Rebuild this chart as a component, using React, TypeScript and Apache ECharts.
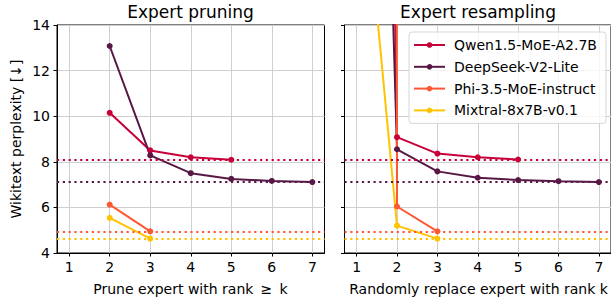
import React, { useEffect, useRef } from "react";
import * as echarts from "echarts";

const models = ["Qwen1.5-MoE-A2.7B", "DeepSeek-V2-Lite", "Phi-3.5-MoE-instruct", "Mixtral-8x7B-v0.1"];
const colors = ["#C70039", "#581845", "#FF5733", "#FFC300"];
const baselines = [8.08, 7.11, 4.95, 4.63];

const pruneK = [
  [2, 3, 4, 5],
  [2, 3, 4, 5, 6, 7],
  [2, 3],
  [2, 3],
];
const pruneVals = [
  [10.15, 8.5, 8.2, 8.09],
  [13.08, 8.28, 7.5, 7.25, 7.16, 7.11],
  [6.12, 4.95],
  [5.54, 4.63],
];

const resampleK = [
  [1, 2, 3, 4, 5],
  [1, 2, 3, 4, 5, 6, 7],
  [1, 2, 3],
  [1, 2, 3],
];
const resampleVals = [
  [130, 9.08, 8.36, 8.2, 8.1],
  [68, 8.55, 7.58, 7.3, 7.2, 7.15, 7.11],
  [2000, 6.04, 4.95],
  [24, 5.2, 4.63],
];

const xTicks = [1, 2, 3, 4, 5, 6, 7];

const FONT = "DejaVu Sans";

export default function App() {
  const ref = useRef<HTMLDivElement>(null);
  useEffect(() => {
    if (!ref.current) return;
    const chart = echarts.init(ref.current, null, { renderer: "svg" });
    const grids = [
      { left: 57, top: 25, width: 267.5, height: 228 },
      { left: 344.5, top: 25, width: 267.5, height: 228 },
    ];
    const xAxis = grids.map((_, i) => ({
      type: "value",
      gridIndex: i,
      min: 0.7,
      max: 7.3,
      axisLine: { show: true, onZero: false, lineStyle: { color: "#000", width: 1 } },
      axisTick: { show: true, length: 3.5, customValues: xTicks, lineStyle: { color: "#000" } },
      axisLabel: { customValues: xTicks, fontSize: 14, color: "#000", fontFamily: FONT, margin: 7 },
      splitLine: { show: true, lineStyle: { color: "#cfcfcf", width: 1 } },
    }));
    const yAxis = grids.map((_, i) => ({
      type: "value",
      gridIndex: i,
      min: 4,
      max: 14,
      interval: 2,
      axisLine: { show: true, lineStyle: { color: "#000", width: 1 } },
      axisTick: { show: true, length: 3.5, lineStyle: { color: "#000" } },
      axisLabel: { show: i === 0, fontSize: 14, color: "#000", fontFamily: FONT, margin: 7 },
      splitLine: { show: true, lineStyle: { color: "#cfcfcf", width: 1 } },
    }));
    const series: any[] = [];
    for (let p = 0; p < 2; p++) {
      const ks = p === 0 ? pruneK : resampleK;
      const vs = p === 0 ? pruneVals : resampleVals;
      models.forEach((m, i) => {
        series.push({
          type: "line",
          name: m,
          xAxisIndex: p,
          yAxisIndex: p,
          z: 2,
          data: ks[i].map((k, j) => [k, vs[i][j]]),
          symbol: "circle",
          symbolSize: 6,
          clip: true,
          itemStyle: { color: colors[i] },
          lineStyle: { color: colors[i], width: 2 },
          markLine: {
            silent: true,
            symbol: ["none", "none"],
            label: { show: false },
            lineStyle: { color: colors[i], width: 2.2, type: [2.2, 3.6], opacity: 1 },
            emphasis: { disabled: true },
            data: [{ yAxis: baselines[i] }],
          },
        });
      });
    }
    chart.setOption({
      animation: false,
      textStyle: { fontFamily: FONT },
      grid: grids.map((g) => ({ ...g, show: true, borderColor: "#000", borderWidth: 1, backgroundColor: "#fff" })),
      xAxis,
      yAxis,
      legend: {
        orient: "vertical",
        left: 409,
        top: 32,
        z: 20,
        data: models,
        itemWidth: 31,
        itemHeight: 7,
        itemGap: 7.8,
        padding: [6, 9, 6, 4],
        backgroundColor: "rgba(255,255,255,0.8)",
        borderColor: "#d6d6d6",
        borderWidth: 1,
        borderRadius: 3,
        textStyle: { fontSize: 14, color: "#000", fontFamily: FONT, padding: [0, 0, 0, 4] },
      },
      graphic: {
        elements: [
          { type: "text", z: 101, x: 190.5, y: 12, style: { text: "Expert pruning", font: `17px '${FONT}'`, fill: "#000", align: "center", verticalAlign: "middle" } },
          { type: "text", z: 101, x: 478, y: 12, style: { text: "Expert resampling", font: `17px '${FONT}'`, fill: "#000", align: "center", verticalAlign: "middle" } },
          { type: "text", z: 101, x: 190.5, y: 289, style: { text: "Prune expert with rank \u2009\u2265\u2009 k", font: `14px '${FONT}'`, fill: "#000", align: "center", verticalAlign: "middle" } },
          { type: "text", z: 101, x: 478.5, y: 289, style: { text: "Randomly replace expert with rank k", font: `14px '${FONT}'`, fill: "#000", align: "center", verticalAlign: "middle" } },
          { type: "text", z: 101, x: 16, y: 139, rotation: Math.PI / 2, style: { text: "Wikitext perplexity [\u2193]", font: `14px '${FONT}'`, fill: "#000", align: "center", verticalAlign: "middle" } },
        ],
      },
      series,
    });
    return () => chart.dispose();
  }, []);
  return <div ref={ref} style={{ position: "absolute", left: 0, top: 0, width: 611, height: 301 }} />;
}
